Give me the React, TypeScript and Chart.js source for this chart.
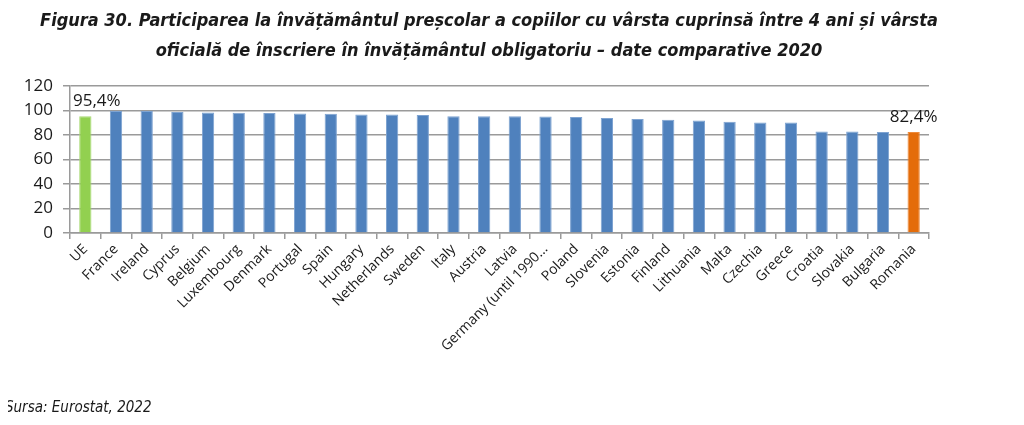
import { useEffect, useRef } from 'react';
import { Chart, registerables } from 'chart.js';

Chart.register(...registerables);

const titleLines = [
  'Figura 30. Participarea la învățământul preșcolar a copiilor cu vârsta cuprinsă între 4 ani și vârsta',
  'oficială de înscriere în învățământul obligatoriu – date comparative 2020',
];
const sourceText = 'Sursa: Eurostat, 2022';

const categories = [
  'UE', 'France', 'Ireland', 'Cyprus', 'Belgium', 'Luxembourg', 'Denmark', 'Portugal', 'Spain',
  'Hungary', 'Netherlands', 'Sweden', 'Italy', 'Austria', 'Latvia', 'Germany (until 1990...',
  'Poland', 'Slovenia', 'Estonia', 'Finland', 'Lithuania', 'Malta', 'Czechia', 'Greece',
  'Croatia', 'Slovakia', 'Bulgaria', 'Romania',
];
const values = [
  95.4, 99.6, 99.6, 98.7, 98.4, 98.2, 97.9, 97.6, 97.4,
  96.8, 96.8, 96.3, 95.4, 95.4, 95.4, 95.2,
  94.6, 93.8, 93.0, 92.5, 91.9, 90.8, 90.3, 90.3,
  82.9, 82.9, 82.5, 82.4,
];
const yTicks = [0, 20, 40, 60, 80, 100, 120];
const labelledCategories = ['UE', 'Romania'];

const BLUE = '#4F81BD';
const GREEN = '#92D050';
const ORANGE = '#E46C0A';

const fmt = (v: number) => v.toFixed(1).replace('.', ',') + '%';

const valueLabels = {
  id: 'valueLabels',
  afterDatasetsDraw(chart: any) {
    const meta = chart.getDatasetMeta(0);
    const ctx = chart.ctx;
    ctx.save();
    ctx.font = '17px "Open Sans", sans-serif';
    ctx.fillStyle = '#1a1a1a';
    ctx.textBaseline = 'alphabetic';
    labelledCategories.forEach((c) => {
      const i = categories.indexOf(c);
      const el = meta.data[i];
      const text = fmt(values[i]);
      const w = ctx.measureText(text).width;
      let left = el.x - w / 2;
      if (left < chart.chartArea.left + 3) left = chart.chartArea.left + 3;
      ctx.textAlign = 'left';
      ctx.fillText(text, left, el.y - 10);
    });
    ctx.restore();
  },
};

export default function App() {
  const ref = useRef<HTMLCanvasElement | null>(null);
  useEffect(() => {
    if (!ref.current) return;
    const colors = categories.map((c) => (c === 'UE' ? GREEN : c === 'Romania' ? ORANGE : BLUE));
    const borders = categories.map((c) => (c === 'UE' ? '#A9DA74' : c === 'Romania' ? '#EE8A3A' : '#7EA3D1'));
    const chart = new Chart(ref.current, {
      type: 'bar',
      data: {
        labels: categories,
        datasets: [
          {
            data: values,
            backgroundColor: colors,
            borderColor: borders,
            borderWidth: 1,
            barPercentage: 0.4,
            categoryPercentage: 1,
          },
        ],
      },
      options: {
        responsive: false,
        animation: false,
        layout: { padding: { left: 5, right: 95, top: 86, bottom: 42 } },
        plugins: {
          legend: { display: false },
          tooltip: { enabled: false },
          title: { display: false },
        },
        scales: {
          x: {
            offset: true,
            grid: {
              offset: true,
              drawOnChartArea: false,
              drawTicks: true,
              tickLength: 6,
              color: '#9a9a9a',
              lineWidth: 1.5,
            },
            border: { display: true, color: '#9a9a9a', width: 1.5 },
            ticks: {
              autoSkip: false,
              maxRotation: 45,
              minRotation: 45,
              padding: 2,
              color: '#1a1a1a',
              font: { family: '"Open Sans", sans-serif', size: 14 },
            },
            afterFit(scale: any) {
              scale.height = 150;
            },
          },
          y: {
            min: 0,
            max: 120,
            afterBuildTicks(scale: any) {
              scale.ticks = yTicks.map((v) => ({ value: v }));
            },
            grid: {
              color: '#9a9a9a',
              lineWidth: 1.5,
              tickLength: 7,
            },
            border: { display: true, color: '#9a9a9a', width: 1.5 },
            ticks: {
              padding: 10,
              color: '#1a1a1a',
              font: { family: '"Open Sans", sans-serif', size: 17 },
            },
            afterFit(scale: any) {
              scale.width = 65;
            },
          },
        },
      },
      plugins: [valueLabels],
    });
    return () => chart.destroy();
  }, []);

  return (
    <div style={{ position: 'relative', width: 1024, height: 425, margin: -8, background: '#fff', overflow: 'hidden' }}>
      <canvas ref={ref} width={1024} height={425} style={{ position: 'absolute', left: 0, top: 0 }} />
      <div
        style={{
          position: 'absolute',
          left: 0,
          top: 5,
          width: 978,
          textAlign: 'center',
          whiteSpace: 'nowrap',
          fontFamily: '"Liberation Sans Narrow", "DejaVu Sans Condensed", Roboto, sans-serif',
          fontWeight: 'bold',
          fontStyle: 'italic',
          fontSize: 18,
          lineHeight: '30px',
          color: '#1a1a1a',
        }}
      >
        {titleLines.map((l, i) => (
          <div key={i}>{l}</div>
        ))}
      </div>
      <div
        style={{
          position: 'absolute',
          left: 5,
          top: 398,
          fontFamily: '"Liberation Sans Narrow", "DejaVu Sans Condensed", Roboto, sans-serif',
          fontStyle: 'italic',
          fontSize: 15,
          color: '#1a1a1a',
        }}
      >
        {sourceText}
      </div>
    </div>
  );
}
